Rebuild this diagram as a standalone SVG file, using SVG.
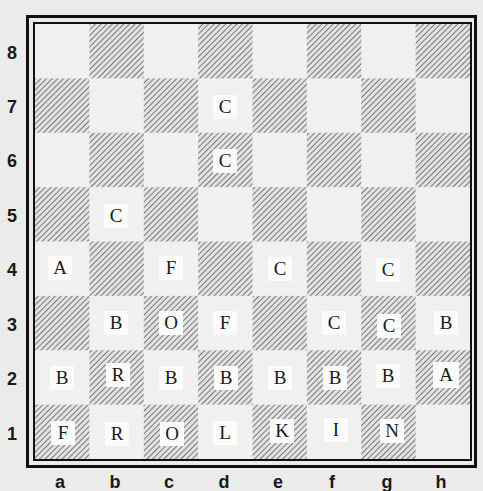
<svg xmlns="http://www.w3.org/2000/svg" width="483" height="491" viewBox="0 0 483 491">
<defs>
<pattern id="hatch" patternUnits="userSpaceOnUse" width="4" height="4" patternTransform="rotate(45)">
<rect width="4" height="4" fill="#e2e2e2"/>
<line x1="0" y1="0" x2="0" y2="4" stroke="#666" stroke-width="1.7"/>
</pattern>
<style>
.lt{fill:#f0f0f0}
.dk{fill:url(#hatch)}
.pc rect{fill:#fbfbfb}
.pc text{font-family:"Liberation Serif",serif;font-size:19px;fill:#1a1a1a;text-anchor:middle}
.lbl{font-family:"Liberation Sans",Arial,sans-serif;font-size:18px;font-weight:bold;fill:#1a1a1a;text-anchor:middle}
</style>
</defs>
<rect width="483" height="491" fill="#ebebeb"/>
<g id="board">
<rect x="35" y="24" width="435" height="435" class="lt"/>
<rect x="89.375" y="24" width="54.375" height="54.375" class="dk"/>
<rect x="198.125" y="24" width="54.375" height="54.375" class="dk"/>
<rect x="306.875" y="24" width="54.375" height="54.375" class="dk"/>
<rect x="415.625" y="24" width="54.375" height="54.375" class="dk"/>
<rect x="35" y="78.375" width="54.375" height="54.375" class="dk"/>
<rect x="143.75" y="78.375" width="54.375" height="54.375" class="dk"/>
<rect x="252.5" y="78.375" width="54.375" height="54.375" class="dk"/>
<rect x="361.25" y="78.375" width="54.375" height="54.375" class="dk"/>
<rect x="89.375" y="132.75" width="54.375" height="54.375" class="dk"/>
<rect x="198.125" y="132.75" width="54.375" height="54.375" class="dk"/>
<rect x="306.875" y="132.75" width="54.375" height="54.375" class="dk"/>
<rect x="415.625" y="132.75" width="54.375" height="54.375" class="dk"/>
<rect x="35" y="187.125" width="54.375" height="54.375" class="dk"/>
<rect x="143.75" y="187.125" width="54.375" height="54.375" class="dk"/>
<rect x="252.5" y="187.125" width="54.375" height="54.375" class="dk"/>
<rect x="361.25" y="187.125" width="54.375" height="54.375" class="dk"/>
<rect x="89.375" y="241.5" width="54.375" height="54.375" class="dk"/>
<rect x="198.125" y="241.5" width="54.375" height="54.375" class="dk"/>
<rect x="306.875" y="241.5" width="54.375" height="54.375" class="dk"/>
<rect x="415.625" y="241.5" width="54.375" height="54.375" class="dk"/>
<rect x="35" y="295.875" width="54.375" height="54.375" class="dk"/>
<rect x="143.75" y="295.875" width="54.375" height="54.375" class="dk"/>
<rect x="252.5" y="295.875" width="54.375" height="54.375" class="dk"/>
<rect x="361.25" y="295.875" width="54.375" height="54.375" class="dk"/>
<rect x="89.375" y="350.25" width="54.375" height="54.375" class="dk"/>
<rect x="198.125" y="350.25" width="54.375" height="54.375" class="dk"/>
<rect x="306.875" y="350.25" width="54.375" height="54.375" class="dk"/>
<rect x="415.625" y="350.25" width="54.375" height="54.375" class="dk"/>
<rect x="35" y="404.625" width="54.375" height="54.375" class="dk"/>
<rect x="143.75" y="404.625" width="54.375" height="54.375" class="dk"/>
<rect x="252.5" y="404.625" width="54.375" height="54.375" class="dk"/>
<rect x="361.25" y="404.625" width="54.375" height="54.375" class="dk"/>
</g>
<g id="frame" fill="none" stroke="#111">
<rect x="27.5" y="16.5" width="448" height="450" stroke-width="3"/>
<rect x="34" y="23" width="437" height="437" stroke-width="2"/>
</g>
<g id="rank-labels" class="lbl">
<text x="12" y="59">8</text>
<text x="12" y="113">7</text>
<text x="12" y="167">6</text>
<text x="12" y="222">5</text>
<text x="12" y="276">4</text>
<text x="12" y="331">3</text>
<text x="12" y="385">2</text>
<text x="12" y="440">1</text>
</g>
<g id="file-labels" class="lbl">
<text x="60" y="488">a</text>
<text x="115" y="488">b</text>
<text x="169" y="488">c</text>
<text x="224" y="488">d</text>
<text x="278" y="488">e</text>
<text x="332" y="488">f</text>
<text x="387" y="488">g</text>
<text x="441" y="488">h</text>
</g>
<g id="pieces" class="pc">
<g id="d7"><rect x="213" y="95" width="24" height="24"/><text x="225" y="113">C</text></g>
<g id="d6"><rect x="213" y="149" width="24" height="24"/><text x="225" y="167">C</text></g>
<g id="b5"><rect x="104" y="204" width="24" height="24"/><text x="116" y="222">C</text></g>
<g id="a4"><rect x="48" y="256" width="24" height="24"/><text x="60" y="274">A</text></g>
<g id="c4"><rect x="159" y="256" width="24" height="24"/><text x="171" y="274">F</text></g>
<g id="e4"><rect x="268" y="257" width="24" height="24"/><text x="280" y="275">C</text></g>
<g id="g4"><rect x="376" y="258" width="24" height="24"/><text x="388" y="276">C</text></g>
<g id="b3"><rect x="104" y="311" width="24" height="24"/><text x="116" y="329">B</text></g>
<g id="c3"><rect x="159" y="311" width="24" height="24"/><text x="171" y="329">O</text></g>
<g id="d3"><rect x="213" y="311" width="24" height="24"/><text x="225" y="329">F</text></g>
<g id="f3"><rect x="322" y="311" width="24" height="24"/><text x="334" y="329">C</text></g>
<g id="g3"><rect x="377" y="314" width="24" height="24"/><text x="389" y="332">C</text></g>
<g id="h3"><rect x="434" y="311" width="24" height="24"/><text x="446" y="329">B</text></g>
<g id="a2"><rect x="50" y="366" width="24" height="24"/><text x="62" y="384">B</text></g>
<g id="b2"><rect x="106" y="363" width="24" height="24"/><text x="118" y="381">R</text></g>
<g id="c2"><rect x="159" y="366" width="24" height="24"/><text x="171" y="384">B</text></g>
<g id="d2"><rect x="214" y="366" width="24" height="24"/><text x="226" y="384">B</text></g>
<g id="e2"><rect x="268" y="366" width="24" height="24"/><text x="280" y="384">B</text></g>
<g id="f2"><rect x="323" y="366" width="24" height="24"/><text x="335" y="384">B</text></g>
<g id="g2"><rect x="376" y="364" width="24" height="24"/><text x="388" y="382">B</text></g>
<g id="h2"><rect x="433" y="362" width="26" height="26"/><text x="446" y="381">A</text></g>
<g id="a1"><rect x="51" y="421" width="24" height="24"/><text x="63" y="439">F</text></g>
<g id="b1"><rect x="105" y="422" width="24" height="24"/><text x="117" y="440">R</text></g>
<g id="c1"><rect x="160" y="422" width="24" height="24"/><text x="172" y="440">O</text></g>
<g id="d1"><rect x="213" y="421" width="24" height="24"/><text x="225" y="439">L</text></g>
<g id="e1"><rect x="270" y="419" width="24" height="24"/><text x="282" y="437">K</text></g>
<g id="f1"><rect x="324" y="418" width="24" height="24"/><text x="336" y="436">I</text></g>
<g id="g1"><rect x="380" y="419" width="24" height="24"/><text x="392" y="437">N</text></g>
</g>
</svg>
